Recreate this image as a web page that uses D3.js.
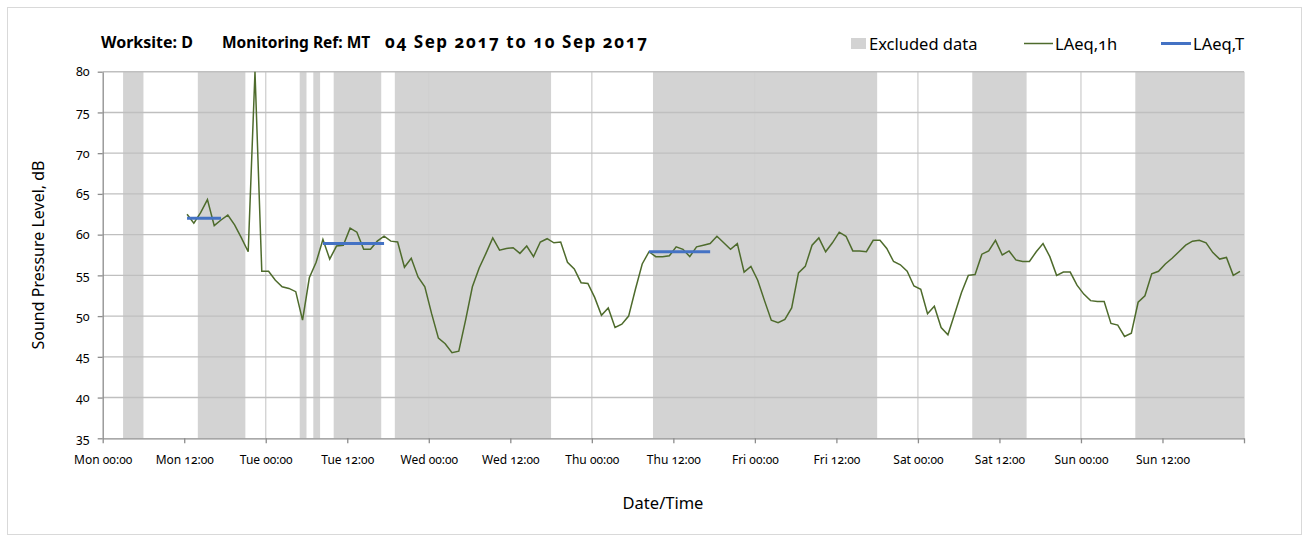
<!DOCTYPE html>
<html>
<head>
<meta charset="utf-8">
<script src="https://cdn.jsdelivr.net/npm/d3@7"></script>
<style>
  body { margin: 0; background: #fff; }
  svg text { font-family: "Noto Sans", "Open Sans", sans-serif; font-variant-numeric: oldstyle-nums; fill: #000; }
</style>
</head>
<body>
<svg id="chart" width="1309" height="540"></svg>
<script>
// hourly LAeq,1h readings, first one at Mon 04 Sep 2017 12:25
var firstReading = "2017-09-04 12:25";
var laeq1h = [
  62.5, 61.4, 62.7, 64.3, 61.1, 61.8, 62.4, 61.2, 59.6, 57.9, 80.0, 55.5, 55.5, 54.4, 53.6, 53.4,
  53.0, 49.5, 54.7, 56.6, 59.4, 57.0, 58.6, 58.7, 60.8, 60.3, 58.2, 58.2, 59.2, 59.8, 59.2, 59.1,
  56.0, 57.1, 54.8, 53.6, 50.3, 47.3, 46.6, 45.5, 45.7, 49.5, 53.6, 55.9, 57.7, 59.6, 58.1, 58.3,
  58.4, 57.7, 58.6, 57.3, 59.1, 59.5, 59.0, 59.1, 56.6, 55.8, 54.1, 54.0, 52.3, 50.1, 51.0, 48.6,
  49.0, 50.0, 53.3, 56.4, 57.9, 57.3, 57.3, 57.4, 58.5, 58.2, 57.3, 58.5, 58.7, 58.9, 59.8, 59.0,
  58.2, 58.9, 55.4, 56.1, 54.4, 51.9, 49.5, 49.2, 49.6, 51.0, 55.3, 56.1, 58.7, 59.6, 57.9,
  59.0, 60.3, 59.8, 58.0, 58.0, 57.9, 59.3, 59.3, 58.3, 56.7, 56.3, 55.5, 53.7, 53.3, 50.3, 51.2,
  48.6, 47.7, 50.3, 52.9, 55.0, 55.1, 57.6, 58.0, 59.3, 57.5, 58.0, 56.9, 56.7, 56.7, 57.9, 58.9,
  57.3, 55.0, 55.4, 55.4, 53.8, 52.7, 51.9, 51.8, 51.8, 49.1, 48.9, 47.5, 47.9, 51.7, 52.5, 55.2,
  55.5, 56.4, 57.1, 57.9, 58.7, 59.2, 59.3, 59.0, 57.8, 57.0, 57.2, 55.0, 55.5
];

// LAeq,T periods
var laeqT = [62.0, 58.9, 57.9];
var laeqTStart = ["2017-09-04 12:25", "2017-09-05 08:25", "2017-09-07 08:25"];
var laeqTEnd = ["2017-09-04 17:25", "2017-09-05 17:25", "2017-09-07 17:25"];

// excluded data periods
var excludedStart = ["2017-09-04 03:00", "2017-09-04 14:00", "2017-09-05 05:00", "2017-09-05 07:00",
  "2017-09-05 10:00", "2017-09-05 19:00", "2017-09-07 09:00", "2017-09-09 08:00", "2017-09-10 08:00"];
var excludedEnd = ["2017-09-04 06:00", "2017-09-04 21:00", "2017-09-05 06:00", "2017-09-05 08:00",
  "2017-09-05 17:00", "2017-09-06 18:00", "2017-09-08 18:00", "2017-09-09 16:00", "2017-09-11 00:00"];

var axisStart = "2017-09-04 00:00", axisEnd = "2017-09-11 00:00";
var yMin = 35, yMax = 80, yStep = 5;

var parse = d3.timeParse("%Y-%m-%d %H:%M");
var svg = d3.select("#chart");

var margin = { left: 102.7, right: 65, top: 71.7, bottom: 101.7 };
var W = 1309, H = 540;

var x = d3.scaleTime().domain([parse(axisStart), parse(axisEnd)]).range([margin.left, W - margin.right]);
var y = d3.scaleLinear().domain([yMin, yMax]).range([H - margin.bottom, margin.top]);

// chart border
svg.append("rect").attr("x", 7.5).attr("y", 7.5).attr("width", 1294).attr("height", 527)
  .attr("fill", "#fff").attr("stroke", "#d9d9d9").attr("stroke-width", 1);

// excluded bands
var bands = excludedStart.map(function (s, i) { return { s: parse(s), e: parse(excludedEnd[i]) }; });
svg.append("g").selectAll("rect").data(bands).enter().append("rect")
  .attr("x", function (d) { return x(d.s); })
  .attr("width", function (d) { return x(d.e) - x(d.s); })
  .attr("y", y(yMax)).attr("height", y(yMin) - y(yMax))
  .attr("fill", "#d3d3d3");

// gridlines
var dayTicks = d3.timeDay.range(parse(axisStart), d3.timeHour.offset(parse(axisEnd), 1));
svg.append("g").selectAll("line").data(dayTicks.slice(1)).enter().append("line")
  .attr("x1", function (d) { return x(d); }).attr("x2", function (d) { return x(d); })
  .attr("y1", y(yMin)).attr("y2", y(yMax))
  .attr("stroke", "#d0d0d0").attr("stroke-width", 1.3);

var yTicks = d3.range(yMin, yMax + 1, yStep);
svg.append("g").selectAll("line").data(yTicks.slice(1)).enter().append("line")
  .attr("x1", x.range()[0]).attr("x2", x.range()[1])
  .attr("y1", function (d) { return y(d); }).attr("y2", function (d) { return y(d); })
  .attr("stroke", "#bfbfbf").attr("stroke-width", 1.4);

// axes
var halfDays = d3.timeHour.every(12).range(parse(axisStart), d3.timeHour.offset(parse(axisEnd), 1));
var fmt = d3.timeFormat("%a %H:%M");
var xAxis = svg.append("g").attr("transform", "translate(0," + y(yMin) + ")")
  .call(d3.axisBottom(x).tickValues(halfDays).tickSize(5).tickSizeOuter(0).tickPadding(12)
    .tickFormat(function (d, i) { return i < halfDays.length - 1 ? fmt(d) : ""; }));
xAxis.selectAll("text").attr("font-size", 12);

var yAxis = svg.append("g").attr("transform", "translate(" + x.range()[0] + ",0)")
  .call(d3.axisLeft(y).tickValues(yTicks).tickSize(5).tickSizeOuter(0).tickPadding(8));
yAxis.selectAll("text").attr("font-size", 12.5);

svg.selectAll(".domain, .tick line").attr("stroke", "#8c8c8c").attr("stroke-width", 1.3);

// LAeq,1h line
var t0 = parse(firstReading);
var pts = laeq1h.map(function (v, i) { return { t: d3.timeHour.offset(t0, i), v: v }; });
svg.append("path").datum(pts)
  .attr("fill", "none").attr("stroke", "#4e6b2c").attr("stroke-width", 1.5)
  .attr("d", d3.line().x(function (d) { return x(d.t); }).y(function (d) { return y(d.v); }));

// LAeq,T lines
var periods = laeqT.map(function (v, i) { return { s: parse(laeqTStart[i]), e: parse(laeqTEnd[i]), v: v }; });
svg.append("g").selectAll("line").data(periods).enter().append("line")
  .attr("x1", function (d) { return x(d.s); }).attr("x2", function (d) { return x(d.e); })
  .attr("y1", function (d) { return y(d.v); }).attr("y2", function (d) { return y(d.v); })
  .attr("stroke", "#4472c4").attr("stroke-width", 3);

// axis titles
svg.append("text").attr("x", 663).attr("y", 509).attr("text-anchor", "middle")
  .attr("font-size", 16.5).text("Date/Time");
svg.append("text").attr("transform", "translate(44,255) rotate(-90)").attr("text-anchor", "middle")
  .attr("font-size", 16).text("Sound Pressure Level, dB");

// title
var title = svg.append("g").attr("font-weight", "bold");
title.append("text").attr("x", 101).attr("y", 48).attr("font-size", 16).text("Worksite: D");
title.append("text").attr("x", 222).attr("y", 48).attr("font-size", 15.5).text("Monitoring Ref: MT");
title.append("text").attr("x", 385).attr("y", 48).attr("font-size", 17)
  .attr("textLength", 262).attr("lengthAdjust", "spacing").text("04 Sep 2017 to 10 Sep 2017");

// legend
var lg = svg.append("g");
lg.append("rect").attr("x", 851).attr("y", 38).attr("width", 15).attr("height", 11).attr("fill", "#d3d3d3");
lg.append("text").attr("x", 869).attr("y", 50).attr("font-size", 16.5).text("Excluded data");
lg.append("line").attr("x1", 1024).attr("x2", 1053).attr("y1", 43.5).attr("y2", 43.5)
  .attr("stroke", "#4e6b2c").attr("stroke-width", 1.5);
lg.append("text").attr("x", 1055).attr("y", 50).attr("font-size", 16.5).text("LAeq,1h");
lg.append("line").attr("x1", 1161).attr("x2", 1191).attr("y1", 43.5).attr("y2", 43.5)
  .attr("stroke", "#4472c4").attr("stroke-width", 3);
lg.append("text").attr("x", 1193).attr("y", 50).attr("font-size", 16.5).text("LAeq,T");
</script>
</body>
</html>
